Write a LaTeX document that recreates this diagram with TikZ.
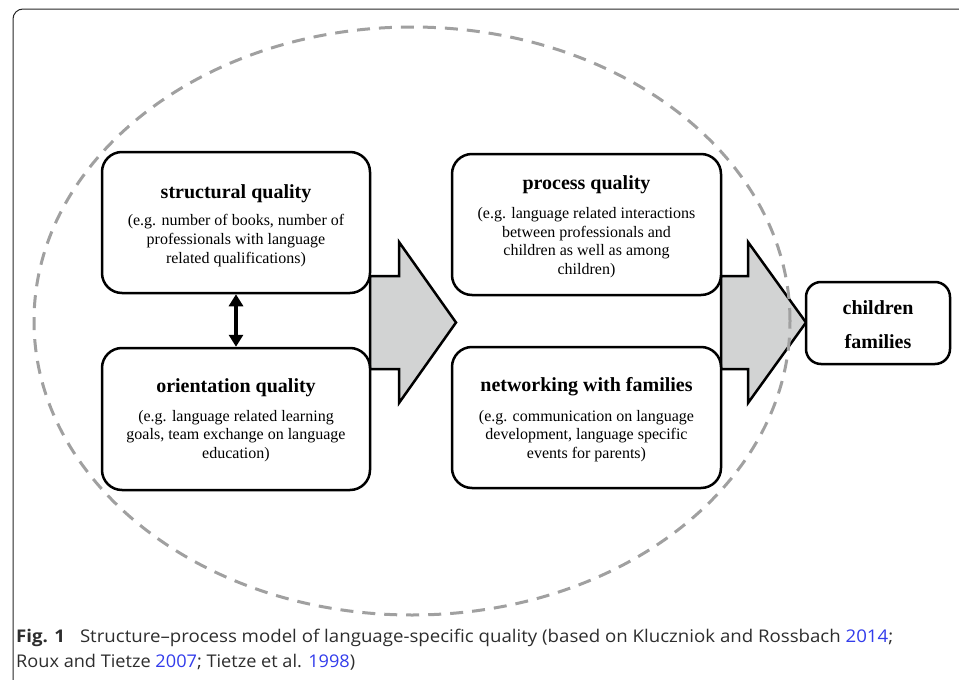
\documentclass[tikz,border=0pt]{standalone}
\usepackage{fontspec}
\usepackage{graphicx}
\setmainfont{Liberation Serif}
\newfontfamily\capfont{Open Sans}
\usetikzlibrary{arrows.meta}
\definecolor{dashgray}{RGB}{160,160,160}
\definecolor{arrowgray}{RGB}{210,211,211}
\definecolor{linkblue}{RGB}{50,60,235}
\definecolor{captext}{RGB}{45,45,45}
\begin{document}
\begin{tikzpicture}[x=1pt,y=-1pt,
  qbox/.style={draw=black, line width=2.5pt, rounded corners=20pt, fill=white, inner sep=0pt},
  ttl/.style={font=\fontsize{20}{24}\selectfont\bfseries, inner sep=0pt},
  body/.style={font=\fontsize{16}{18.6}\selectfont, align=center, inner sep=0pt},
  bigarrow/.style={draw=black, line width=2.5pt, fill=arrowgray, line join=miter},
  capt/.style={anchor=base west, inner sep=0pt, text=captext, font=\capfont\fontsize{17.5}{25}\selectfont},
]
\useasboundingbox (0,0) rectangle (959,680);
% outer frame
\draw[line width=1pt, black!85, rounded corners=10pt] (13,700) -- (13,9) -- (980,9);
% big arrows
\draw[bigarrow] (370,276) -- (399,276) -- (399,242) -- (456,322.5) -- (399,403) -- (399,369) -- (370,369) -- cycle;
\draw[bigarrow] (721,276) -- (748,276) -- (748,242) -- (806,322.5) -- (748,403) -- (748,369) -- (721,369) -- cycle;
% dashed ellipse
\draw[dashgray, line width=3pt, dash pattern=on 13pt off 9pt] (412,321) ellipse [x radius=378pt, y radius=294pt];
% boxes
\node[qbox, minimum width=268pt, minimum height=141pt] (sq) at (236,222.5) {};
\node[qbox, minimum width=268pt, minimum height=142pt] (oq) at (236,419) {};
\node[qbox, minimum width=269pt, minimum height=141pt] (pq) at (586.5,224.5) {};
\node[qbox, minimum width=269pt, minimum height=141pt] (nf) at (586.5,417.5) {};
\node[qbox, rounded corners=15pt, minimum width=144pt, minimum height=82pt] (cf) at (878,323) {};
% texts
\node[ttl] (sqt) at (236,194) {structural quality};
\node[body] (sqb) at (236,240.5) {(e.g. number of books, number of\\professionals with language\\related qualifications)};
\node[ttl] (oqt) at (236,388) {orientation quality};
\node[body] (oqb) at (236,436) {(e.g. language related learning\\goals, team exchange on language\\education)};
\node[ttl] (pqt) at (586.5,185) {process quality};
\node[body] (pqb) at (586.5,242.5) {(e.g. language related interactions\\between professionals and\\children as well as among\\children)};
\node[ttl] (nft) at (586.5,387) {networking with families};
\node[body] (nfb) at (586.5,436) {(e.g. communication on language\\development, language specific\\events for parents)};
\node[ttl] (cft1) at (878,308) {children};
\node[ttl] (cft2) at (878,342) {families};
% double arrow
\draw[line width=3.5pt, {Triangle[width=14pt,length=12pt]}-{Triangle[width=14pt,length=12pt]}] (sq.south) -- (oq.north);
% caption
\node[capt] (cap1) at (16,642) {\resizebox{877pt}{\height}{\textbf{Fig. 1}\hspace{0.8em}Structure–process model of language-specific quality (based on Kluczniok and Rossbach \textcolor{linkblue}{2014};}};
\node[capt] (cap2) at (16,667) {\resizebox{339pt}{\height}{Roux and Tietze \textcolor{linkblue}{2007}; Tietze et al. \textcolor{linkblue}{1998})}};
\end{tikzpicture}
\end{document}
